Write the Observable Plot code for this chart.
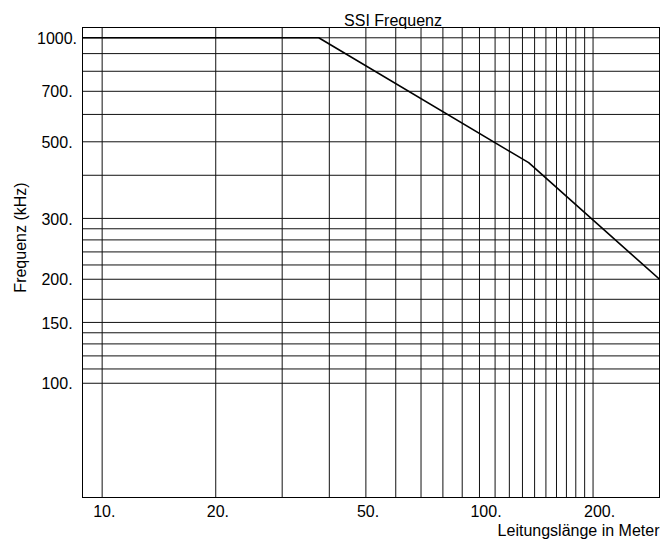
<!DOCTYPE html>
<html>
<head>
<meta charset="utf-8">
<script src="https://cdn.jsdelivr.net/npm/d3@7"></script>
<script src="https://cdn.jsdelivr.net/npm/@observablehq/plot@0.6"></script>
<style>
  html, body { margin: 0; padding: 0; background: #fff; }
</style>
</head>
<body>
<div id="chart"></div>
<script>
// Curve: cable length (m) vs SSI frequency (kHz)
const lengths = [5, 37.5, 135, 300];
const freqs = [1000, 1000, 435, 200];

// Grid lines
const xGrid = [10, 20, 30, 40, 50, 60, 70, 80, 90, 100, 110, 120, 130, 140, 150, 160, 170, 180, 190, 200];
const yGrid = [100, 110, 120, 130, 140, 150, 175, 200, 220, 240, 260, 280, 300, 400, 500, 600, 700, 800, 900, 1000];

// Tick labels
const xTicks = [10, 20, 50, 100, 200];
const yTicks = [100, 150, 200, 300, 500, 700, 1000];

const title = "SSI Frequenz";
const xTitle = "Leitungslänge in Meter";
const yTitle = "Frequenz (kHz)";

const curve = lengths.map((l, i) => ({l, f: freqs[i]}));
const font = "'Liberation Sans', Arial, Helvetica, sans-serif";

const chart = Plot.plot({
  width: 672,
  height: 547,
  marginLeft: 82,
  marginRight: 13,
  marginTop: 27,
  marginBottom: 50,
  style: {fontFamily: font, fontSize: "16px", background: "#fff", color: "#000"},
  x: {type: "log", domain: [8.87, 300], axis: null},
  y: {type: "log", domain: [46.7, 1071], axis: null},
  marks: [
    Plot.ruleX(xGrid, {x: d => d, stroke: "#111", strokeWidth: 1}),
    Plot.ruleY(yGrid, {y: d => d, stroke: "#111", strokeWidth: 1}),
    Plot.line(curve, {x: "l", y: "f", stroke: "#000", strokeWidth: 1.6, clip: true}),
    Plot.frame({stroke: "#000", strokeWidth: 1}),
    Plot.text(xTicks, {x: d => d, text: d => d + ".", frameAnchor: "bottom", dy: 19, dx: -9, textAnchor: "start", fontSize: 16, fill: "#000"}),
    Plot.text(yTicks, {y: d => d, text: d => d + ".", frameAnchor: "left", dx: -25.5, dy: 1, textAnchor: "middle", fontSize: 16, fill: "#000"}),
    Plot.text([title], {frameAnchor: "top", dx: 22, dy: -13, textAnchor: "middle", fontSize: 16, fill: "#000"}),
    Plot.text([xTitle], {frameAnchor: "bottom-right", textAnchor: "end", dy: 38, fontSize: 16, fill: "#000"}),
    Plot.text([yTitle], {frameAnchor: "left", rotate: -90, textAnchor: "middle", dx: -62, dy: -25, fontSize: 16, fill: "#000"})
  ]
});
document.getElementById("chart").appendChild(chart);
</script>
</body>
</html>
